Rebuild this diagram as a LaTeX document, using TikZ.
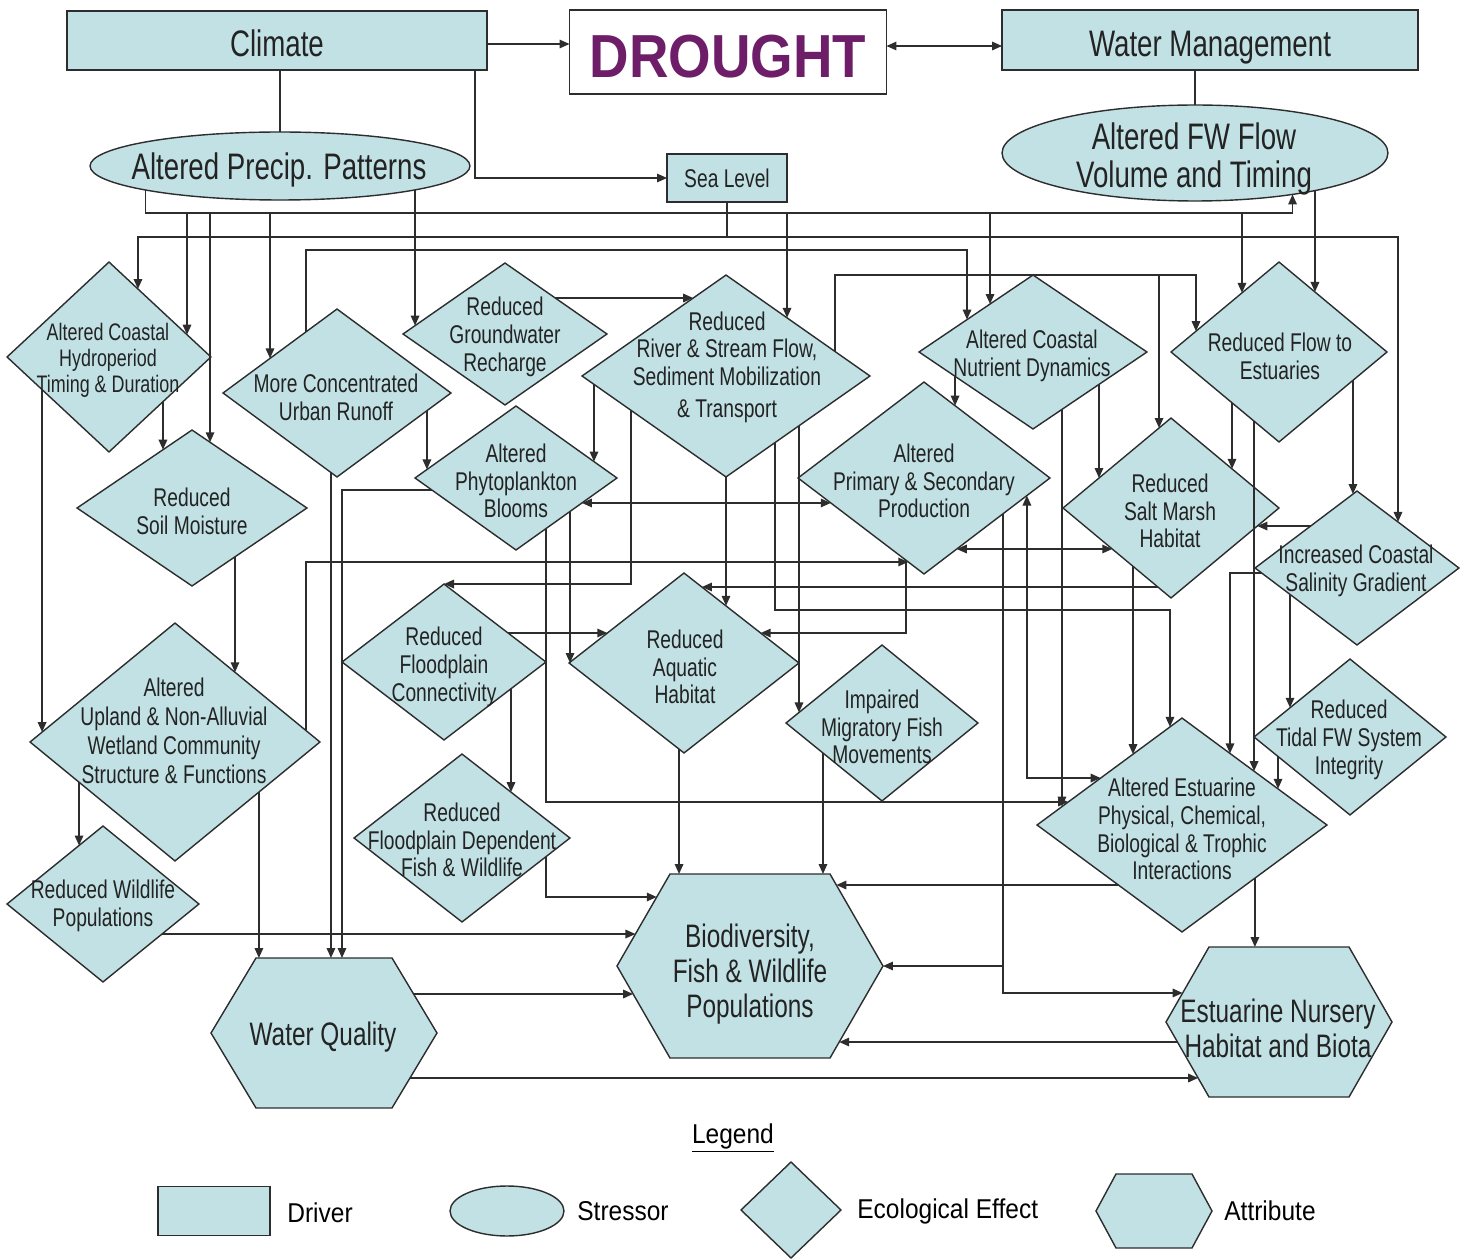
\documentclass[tikz,border=0pt]{standalone}
\usepackage{fontspec}
\setmainfont{Liberation Sans}[FakeStretch=0.75]
\newfontfamily\bigfont{Liberation Sans}[FakeStretch=0.9]
\newfontfamily\legfont{Liberation Sans}[FakeStretch=0.9]
\usetikzlibrary{shapes.geometric,arrows.meta,calc}
\definecolor{boxfill}{RGB}{193,225,228}
\definecolor{lncol}{RGB}{45,45,45}
\definecolor{ink}{RGB}{35,35,35}
\definecolor{dpurple}{RGB}{110,30,105}
\tikzset{
  drv/.style={rectangle, draw=lncol, fill=boxfill, line width=0.8pt, inner sep=0, outer sep=0, text=ink},
  str/.style={ellipse, draw=lncol, fill=boxfill, line width=0.8pt, inner sep=0, outer sep=0},
  eff/.style={diamond, draw=lncol, fill=boxfill, line width=0.8pt, inner sep=0, outer sep=0},
  hexa/.style={draw=lncol, fill=boxfill, line width=0.8pt},
  att/.style={rectangle, inner sep=0, outer sep=0},
  atx/.style={align=center, text=ink, inner sep=0, font=\fontsize{18.5}{20}\selectfont},
  etx/.style={align=center, text=ink, inner sep=0, font=\fontsize{14.6}{15.8}\selectfont},
  btx/.style={align=center, text=ink, inner sep=0, font=\fontsize{21}{22}\selectfont},
  ltx/.style={anchor=west, text=black, inner sep=0, font=\legfont\fontsize{15.5}{17}\selectfont},
  con/.style={draw=lncol, line width=0.9pt},
}
\begin{document}
\begin{tikzpicture}[x=0.02cm,y=-0.02cm,>={Triangle[length=0.2cm,width=0.17cm]}]
\useasboundingbox (0,0) rectangle (1468,1260);

\node[drv, btx, minimum width=8.4cm, minimum height=1.18cm] (clim) at (277,40.5) {\raisebox{-0.05cm}[\height][\depth]{Climate}};
\node[drv, fill=white, minimum width=6.34cm, minimum height=1.68cm, text=dpurple,
  font=\bigfont\bfseries\fontsize{34.6}{36}\selectfont] (drt) at (728,52) {\raisebox{-0.1cm}[\height][\depth]{DROUGHT}};
\node[drv, btx, minimum width=8.32cm, minimum height=1.2cm] (wm) at (1210,40) {\raisebox{-0.15cm}[\height][\depth]{Water Management}};
\node[drv, etx, minimum width=2.4cm, minimum height=0.96cm] (sea) at (727,178) {Sea Level};

\node[str, minimum width=7.6cm, minimum height=1.36cm] (app) at (280,166) {};
\node[btx] (app-t) at (279,170) {Altered Precip. Patterns};
\node[str, minimum width=7.72cm, minimum height=1.92cm] (afw) at (1195,153) {};
\node[btx, font=\fontsize{21}{21.5}\selectfont] (afw-t) at (1194,159) {Altered FW Flow\\Volume and Timing};

\foreach \n/\x/\y/\w/\h in {hyd/109/357/102/95, soil/192/508/115/78, urb/337/393/114/84,
  gwr/505/334/102/71, rrf/726/376/144/101, phy/516/478/101/72, cnd/1033/352/114/77,
  rfe/1279/352/108/90, psp/924/478/126/96, rsm/1171/508/108/90, sal/1357/568/102/77,
  tfw/1350/737/96/78, est/1182/825/145/107, rfc/444/662/102/78, aqh/684/663/115/90,
  mig/882/723/96/78, upl/175/742/145/119, wld/103/904/96/78, fdf/462/838/108/84}
  \node[eff, minimum width=\w*0.04cm, minimum height=\h*0.04cm] (\n) at (\x,\y) {};

\node[etx, font=\fontsize{13.6}{14.8}\selectfont] (hyd-t) at (108,360) {Altered Coastal\\Hydroperiod\\Timing \& Duration};
\node[etx] (soil-t) at (192,511) {Reduced\\Soil Moisture};
\node[etx] (urb-t) at (336,397) {More Concentrated\\Urban Runoff};
\node[etx] (gwr-t) at (505,337) {Reduced\\Groundwater\\Recharge};
\node[etx] (rrf-t) at (727,367) {Reduced\\River \& Stream Flow,\\Sediment Mobilization\\[2pt]\& Transport};
\node[etx] (phy-t) at (516,481) {Altered\\Phytoplankton\\Blooms};
\node[etx] (cnd-t) at (1032,356) {Altered Coastal\\Nutrient Dynamics};
\node[etx] (rfe-t) at (1280,356) {Reduced Flow to\\Estuaries};
\node[etx] (psp-t) at (924,481) {Altered\\Primary \& Secondary\\Production};
\node[etx] (rsm-t) at (1170,511) {Reduced\\Salt Marsh\\Habitat};
\node[etx] (sal-t) at (1356,571) {Increased Coastal\\Salinity Gradient};
\node[etx] (tfw-t) at (1349,740) {Reduced\\Tidal FW System\\Integrity};
\node[etx] (est-t) at (1182,829) {Altered Estuarine\\Physical, Chemical,\\Biological \& Trophic\\Interactions};
\node[etx] (rfc-t) at (444,667) {Reduced\\Floodplain\\Connectivity};
\node[etx] (aqh-t) at (685,667) {Reduced\\Aquatic\\Habitat};
\node[etx] (mig-t) at (882,727) {Impaired\\Migratory Fish\\Movements};
\node[etx, font=\fontsize{14.6}{16.4}\selectfont] (upl-t) at (174,731) {Altered\\Upland \& Non-Alluvial\\Wetland Community\\Structure \& Functions};
\node[etx] (wld-t) at (103,906) {Reduced Wildlife\\Populations};
\node[etx] (fdf-t) at (462,840) {Reduced\\Floodplain Dependent\\Fish \& Wildlife};

\foreach \n/\x/\y/\w/\t/\h in {wq/324/1033/113/68/75, bio/750/966/133/80/92, enh/1279/1022/113/70/75, latt/1154/1211/58/38/37}{
  \coordinate (\n-tl) at (\x-\t,\y-\h);
  \coordinate (\n-tr) at (\x+\t,\y-\h);
  \coordinate (\n-br) at (\x+\t,\y+\h);
  \coordinate (\n-bl) at (\x-\t,\y+\h);
  \draw[hexa] (\x-\w,\y) -- (\n-tl) -- (\n-tr) -- (\x+\w,\y) -- (\n-br) -- (\n-bl) -- cycle;
}
\node[att, minimum width=4.52cm, minimum height=3cm] (wq) at (324,1033) {};
\node[att, minimum width=5.32cm, minimum height=3.68cm] (bio) at (750,966) {};
\node[att, minimum width=4.52cm, minimum height=3cm] (enh) at (1279,1022) {};
\node[atx] (wq-t) at (323,1037) {Water Quality};
\node[atx] (bio-t) at (750,974) {Biodiversity,\\Fish \& Wildlife\\Populations};
\node[atx] (enh-t) at (1278,1028) {Estuarine Nursery\\Habitat and Biota};

\node[ltx, anchor=center] (leg) at (733,1138) {\underline{Legend}};
\node[drv, minimum width=2.24cm, minimum height=0.98cm] (ldrv) at (214,1211) {};
\node[ltx] (ldrv-t) at (287,1213) {Driver};
\node[str, minimum width=2.28cm, minimum height=1cm] (lstr) at (507,1211) {};
\node[ltx] (lstr-t) at (577,1211) {Stressor};
\node[eff, minimum width=2cm, minimum height=1.92cm] (leff) at (791,1210) {};
\node[ltx] (leff-t) at (857,1211) {Ecological Effect};
\node[att, minimum width=2.32cm, minimum height=1.48cm] (latt) at (1154,1211) {};
\node[ltx] (latt-t) at (1224,1211) {Attribute};

\foreach \n/\a/\b/\f/\m in {hyd/north/east/.765/a, hyd/north/east/.284/b, hyd/west/south/.343/c,
  hyd/south/east/.529/d, soil/north/east/.157/a, soil/west/north/.748/b, soil/south/east/.374/c,
  urb/west/north/.412/a, urb/west/north/.728/b, urb/west/south/.947/c, urb/south/east/.789/d,
  gwr/west/north/.118/a, gwr/north/east/.493/b, rrf/north/east/.424/a, rrf/north/east/.757/b,
  rrf/west/north/.772/c, rrf/west/south/.083/d, rrf/west/south/.34/e, rrf/south/east/.34/f,
  rrf/south/east/.507/g, phy/west/south/.167/a, phy/west/north/.119/b, phy/north/east/.772/c,
  phy/south/east/.653/d, phy/south/east/.535/e, phy/south/east/.297/f, cnd/west/north/.623/a,
  cnd/west/north/.421/b, cnd/west/south/.316/c, cnd/south/east/.579/d, cnd/south/east/.254/e,
  rfe/north/east/.333/a, rfe/west/north/.231/b, rfe/west/south/.769/c, rfe/west/south/.565/d,
  rfe/south/east/.685/e, rfe/west/north/.657/f, psp/west/south/.875/a, psp/west/south/.26/b,
  psp/west/south/.857/c, psp/south/east/.26/d, psp/north/east/.246/e, psp/south/east/.817/f,
  psp/south/east/.627/g, rsm/west/north/.889/a, rsm/west/south/.878/b, rsm/west/south/.456/c,
  rsm/west/north/.333/d, rsm/west/south/.648/e, rsm/south/east/.8/f, rsm/north/east/.565/g,
  sal/north/east/.402/a, sal/west/south/.065/b, sal/west/south/.343/c, sal/west/north/.545/d,
  sal/west/north/.961/e, tfw/west/south/.25/a, tfw/west/north/.375/b, est/west/north/.917/a,
  est/west/north/.215/b, est/west/north/.172/c, est/west/north/.439/d, est/south/east/.503/e,
  est/west/south/.561/f, est/west/north/.662/g, est/north/east/.331/h, est/north/east/.497/i,
  est/north/east/.662/j, rfc/north/east/.628/b, rfc/south/east/.657/c, aqh/north/east/.365/a,
  aqh/west/north/.333/b, aqh/north/east/.667/c, aqh/north/east/.156/d, aqh/west/south/.957/e,
  mig/west/north/.135/a, mig/west/south/.385/b, upl/west/north/.083/a, upl/north/east/.414/b,
  upl/west/south/.338/c, upl/south/east/.579/d, upl/north/east/.903/e, wld/west/north/.75/a,
  wld/south/east/.615/b, fdf/north/east/.454/a, fdf/south/east/.778/b}
  \coordinate (\n-\m) at ($(\n.\a)!\f!(\n.\b)$);
\coordinate (bio-a) at ($(bio-tr)!.12!(bio.east)$);
\coordinate (bio-b) at ($(bio.east)!.826!(bio-br)$);
\coordinate (bio-c) at ($(bio.west)!.304!(bio-bl)$);
\coordinate (bio-d) at ($(bio.west)!.348!(bio-tl)$);
\coordinate (bio-e) at ($(bio.west)!.75!(bio-tl)$);
\coordinate (wq-a) at ($(wq-tr)!.48!(wq.east)$);
\coordinate (wq-b) at ($(wq.east)!.6!(wq-br)$);
\coordinate (enh-a) at ($(enh.west)!.387!(enh-tl)$);
\coordinate (enh-b) at ($(enh.west)!.267!(enh-bl)$);
\coordinate (enh-c) at ($(enh.west)!.747!(enh-bl)$);
\coordinate (afw-a) at (afw.-23.2);
\coordinate (afw-b) at (afw.-17.4);
\coordinate (app-a) at (app.-10.1);
\coordinate (pbus) at (0,213);
\coordinate (sbus) at (0,237);
\coordinate (ubus) at (0,250);
\coordinate (rbus) at (0,275);
\coordinate (mbus) at (0,610);

\draw[con,->] (clim.east |- 0,44) -- (drt.west |- 0,44);
\draw[con,<->] (drt.east |- 0,46) -- (wm.west |- 0,46);
\draw[con] (clim.south -| app.north) -- (app.north);
\draw[con,->] ([xshift=-0.24cm]clim.south east) |- (sea);
\draw[con] (wm.south -| afw.north) -- (afw.north);

\draw[con,->] (app.south west) |- (afw-a |- pbus) -- (afw-a);
\foreach \m in {hyd-a,soil-a,urb-a,rrf-a,cnd-a,rfe-f}
  \draw[con,->] (app.south west) |- (\m |- pbus) -- (\m);
\draw[con,->] (gwr-a |- app-a) -- (gwr-a);
\foreach \m in {hyd-b,sal-a}
  \draw[con,->] (sea.south) |- (\m |- sbus) -- (\m);
\draw[con,->] (urb-b) |- (cnd-b |- ubus) -- (cnd-b);
\foreach \m in {rfe-b,rsm-a}
  \draw[con,->] (rrf-b) |- (\m |- rbus) -- (\m);
\draw[con,->] (rfe-a |- afw-b) -- (rfe-a);
\draw[con,->] (gwr-b) -- (gwr-b -| rrf-c);
\draw[con,->] (upl-a |- hyd-c) -- (upl-a);

\foreach \s/\e in {hyd-d/soil-b, soil-c/upl-b, upl-c/wld-a, urb-d/phy-b, rrf-d/phy-c, rrf-g/mig-a,
  rfc-c/fdf-a, cnd-c/psp-e, cnd-d/rsm-d, cnd-e/est-c, rsm-e/est-g, rfe-c/est-i, tfw-a/est-j,
  sal-c/tfw-b, rfe-d/rsm-g, rfe-e/sal-e, rrf.south/aqh-a, phy-e/aqh.west, upl-d/wq.north,
  urb-c/wq.north, aqh-e/bio.north, mig-b/bio.north, est-e/enh.north}
  \draw[con,->] (\s) -- (\s |- \e);
\foreach \s/\e in {rfc-b/aqh-b, rsm-b/aqh-d, sal-d/rsm-f, est-f/bio-a, enh-b/bio-b, wq-a/bio-c,
  wq-b/enh-c, wld-b/bio-d}
  \draw[con,->] (\s) -- (\s -| \e);
\foreach \s/\e in {phy-d/psp-b, psp-d/rsm-c}
  \draw[con,<->] (\s) -- (\s -| \e);
\foreach \s/\e in {upl-e/psp-a, rrf-e/rfc.north, phy-f/est-b, psp-c/aqh-c, psp-g/bio.east,
  psp-g/enh-a, fdf-b/bio-e}
  \draw[con,->] (\s) |- (\e);
\draw[con,<->] (psp-f) |- (est-d);
\draw[con,->] (sal-b) -| (est-h);
\draw[con,->] (phy-a) -| ($(wq.north)+(18,0)$);
\draw[con,->] (rrf-f) |- (est-a |- mbus) -- (est-a);
\end{tikzpicture}
\end{document}
